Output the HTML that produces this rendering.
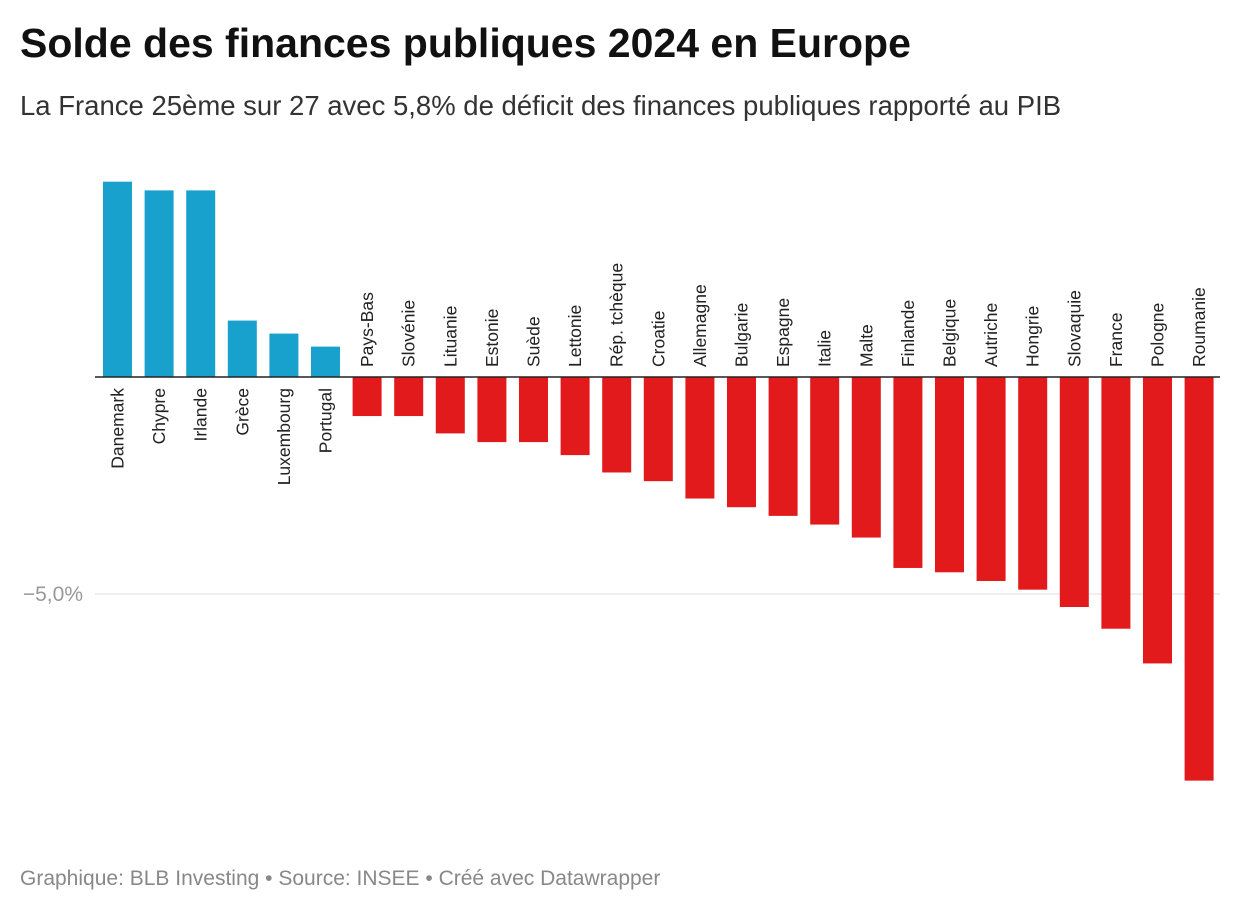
<!DOCTYPE html>
<html><head><meta charset="utf-8"><style>
body{margin:0;background:#fff;width:1240px;height:912px;overflow:hidden;font-family:"Liberation Sans",Arial,sans-serif}
h1{position:absolute;left:20px;top:20px;margin:0;font-size:41px;font-weight:bold;color:#111}
.sub{position:absolute;left:20px;top:90px;font-size:27.5px;color:#333}
.foot{position:absolute;left:20px;top:867px;font-size:21px;color:#888}
svg{position:absolute;left:0;top:0}
</style></head><body>
<h1>Solde des finances publiques 2024 en Europe</h1>
<div class="sub">La France 25ème sur 27 avec 5,8% de déficit des finances publiques rapporté au PIB</div>
<div class="foot">Graphique: BLB Investing • Source: INSEE • Créé avec Datawrapper</div>
<svg id="chart" width="1240" height="912"></svg>
<script>
const countries=["Danemark","Chypre","Irlande","Grèce","Luxembourg","Portugal","Pays-Bas","Slovénie","Lituanie","Estonie","Suède","Lettonie","Rép. tchèque","Croatie","Allemagne","Bulgarie","Espagne","Italie","Malte","Finlande","Belgique","Autriche","Hongrie","Slovaquie","France","Pologne","Roumanie"];
const values=[4.5,4.3,4.3,1.3,1.0,0.7,-0.9,-0.9,-1.3,-1.5,-1.5,-1.8,-2.2,-2.4,-2.8,-3.0,-3.2,-3.4,-3.7,-4.4,-4.5,-4.7,-4.9,-5.3,-5.8,-6.6,-9.3];
const ticks=[-5];
const tickLabels=["−5,0%"];
const NS="http://www.w3.org/2000/svg";
const svg=document.getElementById('chart');
const y=v=>377-v*43.4;
const x=i=>103+i*41.6;
const bw=29;
function mk(t,a){const e=document.createElementNS(NS,t);for(const k in a)e.setAttribute(k,a[k]);svg.appendChild(e);return e;}
ticks.forEach((t,i)=>{
 const g=mk('line',{x1:95,x2:1220,y1:y(t),y2:y(t),stroke:'#ddd','stroke-width':1});
 
 
 const l=mk('text',{x:83,y:y(t)+7,'text-anchor':'end','font-size':21,fill:'#999'});
 l.textContent=tickLabels[i];
 
 
});
values.forEach((v,i)=>{
 const r=mk('rect',{x:x(i),width:bw,y:Math.min(y(v),y(0)),height:Math.abs(y(v)-y(0)),fill:v>=0?'#18a1cd':'#e31a1c'});
 
 
 const cx=x(i)+bw/2+6;
 const ly=v>=0?388:367;
 const t=mk('text',{x:cx,y:ly,transform:`rotate(-90 ${cx} ${ly})`,'text-anchor':v>=0?'end':'start','font-size':17.5,fill:'#222'});
 t.textContent=countries[i];
 
 
});
const ax=mk('line',{x1:95,x2:1220,y1:y(0),y2:y(0),stroke:'#222','stroke-width':1.5});


</script>
</body></html>
